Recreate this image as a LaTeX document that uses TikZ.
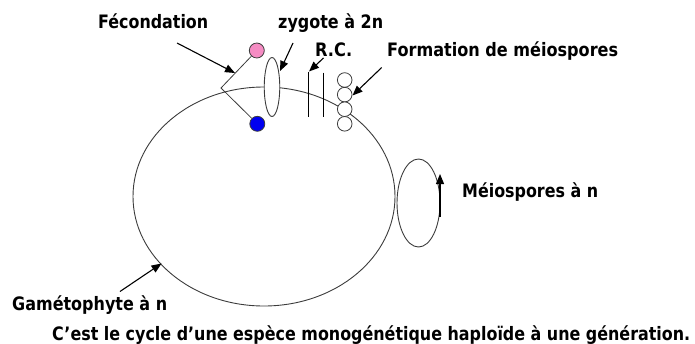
\documentclass[tikz,border=0pt]{standalone}
\usepackage{fontspec}
\setmainfont{DejaVu Sans}
\usepackage{graphicx}
\usetikzlibrary{arrows.meta,shapes.geometric}
\newcommand\fitto[2]{\resizebox{#1}{\height}{#2}}
\definecolor{pinkg}{RGB}{245,140,195}
\definecolor{blueg}{RGB}{0,0,240}
\definecolor{lineg}{RGB}{60,60,60}
\tikzset{
  lbl/.style={anchor=base west,inner sep=0pt,font=\fontsize{18.5}{22}\selectfont\bfseries},
  arr/.style={line width=1.1pt,-{Triangle[length=10pt,width=8pt]}},
  thin line/.style={draw=lineg,line width=0.9pt},
  gamete/.style={circle,draw=lineg,line width=0.8pt,minimum size=15pt,inner sep=0pt},
  spore/.style={circle,draw=lineg,fill=white,line width=0.8pt,minimum size=14.6pt,inner sep=0pt},
}
\begin{document}
\begin{tikzpicture}[x=1pt,y=-1pt]
\useasboundingbox (0,0) rectangle (695,343);
% main ellipse (gametophyte)
\node[ellipse,thin line,minimum width=262pt,minimum height=219pt,inner sep=0pt] (gameto) at (264,196.5) {};
% meiospores ellipse
\node[ellipse,thin line,minimum width=43pt,minimum height=88pt,inner sep=0pt] (meio) at (418.5,203) {};
% zygote
\node[ellipse,thin line,fill=white,minimum width=15.5pt,minimum height=59pt,inner sep=0pt] (zyg) at (272,87) {};
% gametes
\node[gamete,fill=pinkg] (pink) at (256.8,50.5) {};
\node[gamete,fill=blueg] (blue) at (257.3,123.8) {};
\coordinate (v) at (221,88);
\draw[draw=lineg,line width=0.8pt] (pink) -- (v) -- (blue);
% R.C. lines
\coordinate (rc1t) at (308,71.5);
\coordinate (rc1b) at (308,117);
\coordinate (rc2t) at (323,72.5);
\coordinate (rc2b) at (323,117);
\draw[line width=0.9pt] (rc1t) -- (rc1b);
\draw[line width=0.9pt] (rc2t) -- (rc2b);
% spores
\node[spore] (s1) at (344.7,80) {};
\node[spore] (s2) at (344.7,94.6) {};
\node[spore] (s3) at (344.7,109.2) {};
\node[spore] (s4) at (344.7,123.8) {};
% labels
\node[lbl] (tfec) at (98,28) {\fitto{110pt}{Fécondation}};
\node[lbl] (tzyg) at (278,28) {\fitto{105pt}{zygote à 2n}};
\node[lbl] (trc) at (315,56.5) {\fitto{37pt}{R.C.}};
\node[lbl] (tform) at (387,56) {\fitto{231pt}{Formation de méiospores}};
\node[lbl] (tmeio) at (462,197) {\fitto{136pt}{Méiospores à n}};
\node[lbl] (tgam) at (12,310.5) {\fitto{155pt}{Gamétophyte à n}};
\node[lbl] (tcap) at (52,340) {\fitto{638pt}{C’est le cycle d’une espèce monogénétique haploïde à une génération.}};
% arrows
\coordinate (afs) at (177,43);
\coordinate (aft) at (235,73);
\draw[arr] (afs) -- (aft);
\coordinate (azs) at (293,43);
\coordinate (azt) at (280,71);
\draw[arr] (azs) -- (azt);
\coordinate (ars) at (323.5,58);
\coordinate (art) at (309,71.5);
\draw[arr] (ars) -- (art);
\coordinate (aos) at (381.7,67.5);
\coordinate (aot) at (352.5,95.5);
\draw[arr] (aos) -- (aot);
\coordinate (ags) at (120,291.5);
\coordinate (agt) at (161.5,263.5);
\draw[arr] (ags) -- (agt);
\coordinate (ams) at (440,217);
\coordinate (amt) at (440,174);
\draw[arr] (ams) -- (amt);
\end{tikzpicture}
\end{document}
